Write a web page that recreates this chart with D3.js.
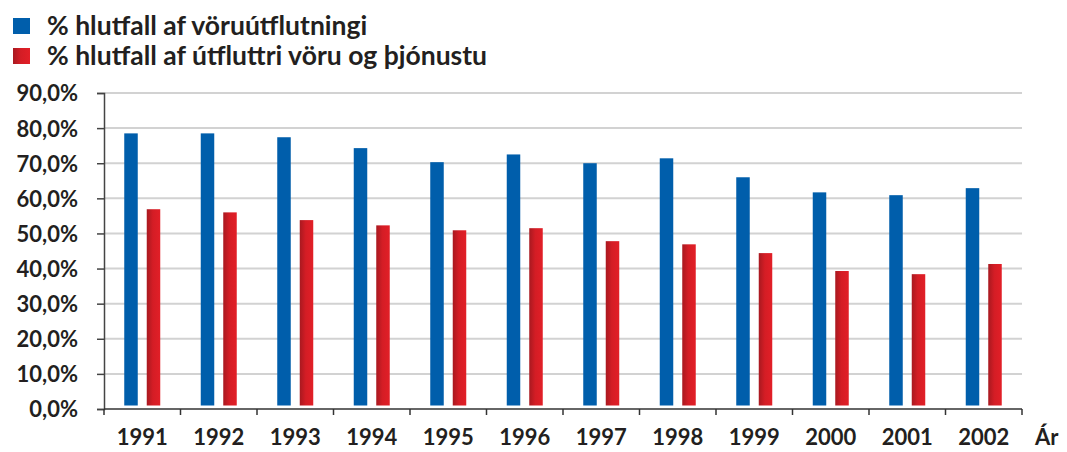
<!DOCTYPE html>
<html>
<head>
<meta charset="utf-8">
<script src="https://cdn.jsdelivr.net/npm/d3@7"></script>
<style>
  body { margin: 0; background: #fff; }
  text { font-family: Lato, "Open Sans", sans-serif; font-weight: 700; fill: #231f20; }
</style>
</head>
<body>
<div id="chart"></div>
<script>
// Data
var years = ["1991", "1992", "1993", "1994", "1995", "1996", "1997", "1998", "1999", "2000", "2001", "2002"];
var vorur = [78.5, 78.5, 77.4, 74.3, 70.3, 72.5, 70.0, 71.4, 66.0, 61.7, 60.9, 62.9];
var vorurThjonusta = [56.9, 56.0, 53.8, 52.3, 50.9, 51.5, 47.8, 46.9, 44.4, 39.3, 38.4, 41.3];
var seriesNames = ["% hlutfall af vöruútflutningi", "% hlutfall af útfluttri vöru og þjónustu"];
var yTicks = [0, 10, 20, 30, 40, 50, 60, 70, 80, 90];

var width = 1067, height = 452;
var margin = {top: 93, right: 45, bottom: 43, left: 104};

var svg = d3.select("#chart").append("svg")
    .attr("width", width)
    .attr("height", height);

// Red gradient for second series
var grad = svg.append("defs").append("linearGradient")
    .attr("id", "redGrad")
    .attr("x1", "0%").attr("x2", "100%").attr("y1", "0%").attr("y2", "0%");
grad.append("stop").attr("offset", "0%").attr("stop-color", "#a81920");
grad.append("stop").attr("offset", "45%").attr("stop-color", "#d41d25");
grad.append("stop").attr("offset", "100%").attr("stop-color", "#e21f27");

var color = ["#005eab", "url(#redGrad)"];

// Scales
var x0 = d3.scaleBand()
    .domain(years)
    .range([margin.left, width - margin.right]);

var x1 = d3.scaleBand()
    .domain([0, 1])
    .range([0, x0.bandwidth()])
    .paddingInner(0.4)
    .paddingOuter(0.9);

var y = d3.scaleLinear()
    .domain([0, 90])
    .range([height - margin.bottom, margin.top]);

// Gridlines
svg.append("g")
  .selectAll("line")
  .data(yTicks.filter(function(d) { return d > 0; }))
  .enter().append("line")
    .attr("x1", margin.left)
    .attr("x2", width - margin.right)
    .attr("y1", function(d) { return y(d); })
    .attr("y2", function(d) { return y(d); })
    .attr("stroke", "#d2d2d2")
    .attr("stroke-width", 2);

// Bars
var table = years.map(function(yr, i) { return {year: yr, values: [vorur[i], vorurThjonusta[i]]}; });
var lift = 3.5; // bars float slightly above the axis

var groups = svg.append("g")
  .selectAll("g")
  .data(table)
  .enter().append("g")
    .attr("transform", function(d) { return "translate(" + x0(d.year) + ",0)"; });

groups.selectAll("rect")
  .data(function(d) { return d.values.map(function(v, i) { return {s: i, v: v}; }); })
  .enter().append("rect")
    .attr("x", function(d) { return x1(d.s); })
    .attr("width", x1.bandwidth())
    .attr("y", function(d) { return y(d.v); })
    .attr("height", function(d) { return y(0) - lift - y(d.v); })
    .attr("fill", function(d) { return color[d.s]; });

// Y axis
var yAxis = svg.append("g")
    .attr("transform", "translate(" + margin.left + ",0)")
    .call(d3.axisLeft(y).tickValues(yTicks).tickSize(7).tickPadding(19)
      .tickFormat(function(d) { return d.toFixed(1).replace(".", ",") + "%"; }));
yAxis.select(".domain").attr("stroke", "#444").attr("stroke-width", 1.5);
yAxis.selectAll(".tick line").attr("stroke", "#444").attr("stroke-width", 1.5);
yAxis.selectAll(".tick text").attr("font-size", 22).attr("dy", "0.36em");

// X axis
var xAxisG = svg.append("g")
    .attr("transform", "translate(0," + y(0) + ")");
xAxisG.append("line")
    .attr("x1", margin.left).attr("x2", width - margin.right)
    .attr("stroke", "#333").attr("stroke-width", 1.5);
xAxisG.selectAll(".xt")
  .data(years.map(function(d) { return x0(d); }).concat([x0.range()[1]]))
  .enter().append("line")
    .attr("x1", function(d) { return d; })
    .attr("x2", function(d) { return d; })
    .attr("y1", 0).attr("y2", 6)
    .attr("stroke", "#333").attr("stroke-width", 1.5);
xAxisG.selectAll(".xl")
  .data(years)
  .enter().append("text")
    .attr("x", function(d) { return x0(d) + x0.bandwidth() / 2; })
    .attr("y", 36)
    .attr("text-anchor", "middle")
    .attr("font-size", 22)
    .text(function(d) { return d; });
xAxisG.append("text")
    .attr("x", 1035)
    .attr("y", 36)
    .attr("font-size", 22)
    .text("Ár");

// Legend
var legend = svg.append("g")
  .selectAll("g")
  .data(seriesNames)
  .enter().append("g")
    .attr("transform", function(d, i) { return "translate(13," + (18 + i * 30) + ")"; });
legend.append("rect")
    .attr("width", 17).attr("height", 16)
    .attr("fill", function(d, i) { return color[i]; });
legend.append("text")
    .attr("x", 34)
    .attr("y", 17)
    .attr("font-size", 26.5)
    .text(function(d) { return d; });
</script>
</body>
</html>
